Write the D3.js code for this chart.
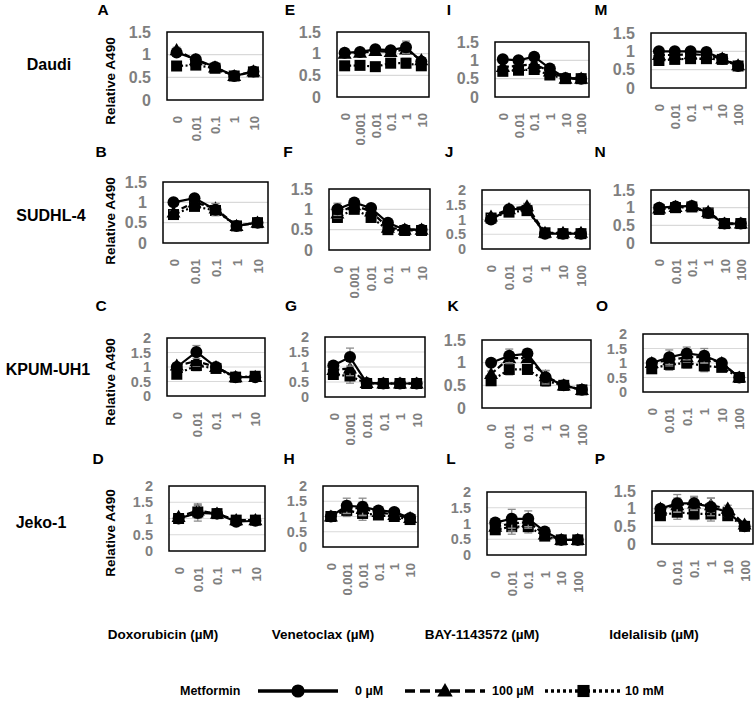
<!DOCTYPE html>
<html><head><meta charset="utf-8">
<script src="https://cdn.jsdelivr.net/npm/d3@7"></script>
<style>body{margin:0;background:#fff}svg{display:block;font-family:"Liberation Sans",Arial,sans-serif}</style>
</head><body><svg id="c" width="756" height="704"></svg>
<script>
// ---------- DATA ----------
const cellLines = ["Daudi", "SUDHL-4", "KPUM-UH1", "Jeko-1"];
const drugTitles = ["Doxorubicin (µM)", "Venetoclax (µM)", "BAY-1143572 (µM)", "Idelalisib (µM)"];
const dosesDox = ["0", "0.01", "0.1", "1", "10"];
const dosesVen = ["0", "0.001", "0.01", "0.1", "1", "10"];
const dosesBay = ["0", "0.01", "0.1", "1", "10", "100"];
const dosesIde = ["0", "0.01", "0.1", "1", "10", "100"];
const seriesNames = ["0 µM", "100 µM", "10 mM"];
const panelLetters = ["A","E","I","M","B","F","J","N","C","G","K","O","D","H","L","P"];
const yMax = [1.5,1.5,1.5,1.5, 1.5,1.5,2,1.5, 2,2,1.5,2, 2,2,2,1.5];

// Metformin 0 µM (circle), 100 µM (triangle), 10 mM (square); err = SD
const A_0 = [1.05,0.9,0.73,0.53,0.63], A_100 = [1.1,0.88,0.72,0.53,0.63], A_10 = [0.75,0.77,0.7,0.53,0.62], A_err = [0.08,0.05,0.05,0.04,0.04];
const E_0 = [1.02,1.04,1.1,1.08,1.15,0.82], E_100 = [1.0,1.02,1.06,1.04,1.1,0.85], E_10 = [0.72,0.73,0.7,0.78,0.78,0.72], E_err = [0.05,0.05,0.05,0.08,0.14,0.06];
const I_0 = [1.03,1.0,1.1,0.78,0.52,0.5], I_100 = [0.82,0.85,0.9,0.7,0.5,0.5], I_10 = [0.7,0.73,0.75,0.6,0.5,0.5], I_err = [0.05,0.05,0.05,0.05,0.04,0.04];
const M_0 = [1.0,1.0,1.0,0.98,0.8,0.6], M_100 = [0.9,0.9,0.92,0.9,0.8,0.62], M_10 = [0.75,0.78,0.8,0.8,0.78,0.6], M_err = [0.06,0.06,0.06,0.1,0.05,0.04];
const B_0 = [1.0,1.1,0.82,0.42,0.5], B_100 = [0.75,1.0,0.85,0.42,0.5], B_10 = [0.7,0.9,0.8,0.42,0.5], B_err = [0.05,0.08,0.15,0.04,0.04];
const F_0 = [1.0,1.17,1.03,0.67,0.5,0.5], F_100 = [0.9,1.1,0.95,0.55,0.5,0.5], F_10 = [0.8,1.0,0.8,0.5,0.48,0.48], F_err = [0.15,0.06,0.05,0.05,0.04,0.04];
const J_0 = [1.0,1.35,1.35,0.52,0.52,0.52], J_100 = [1.1,1.35,1.45,0.55,0.55,0.55], J_10 = [1.05,1.25,1.3,0.55,0.52,0.52], J_err = [0.08,0.1,0.12,0.05,0.05,0.05];
const N_0 = [1.0,1.03,1.05,0.85,0.55,0.55], N_100 = [0.98,1.02,1.04,0.88,0.55,0.55], N_10 = [0.95,1.0,1.02,0.85,0.55,0.55], N_err = [0.06,0.05,0.05,0.12,0.05,0.05];
const C_0 = [1.0,1.52,1.0,0.65,0.65], C_100 = [1.05,1.2,1.0,0.65,0.66], C_10 = [0.75,1.05,0.95,0.65,0.68], C_err = [0.1,0.22,0.1,0.06,0.06];
const G_0 = [1.05,1.33,0.47,0.45,0.45,0.45], G_100 = [0.9,0.95,0.47,0.45,0.45,0.45], G_10 = [0.75,0.7,0.45,0.45,0.45,0.45], G_err = [0.1,0.3,0.05,0.04,0.04,0.04];
const K_0 = [1.0,1.15,1.2,0.68,0.5,0.4], K_100 = [0.75,1.1,1.1,0.7,0.5,0.4], K_10 = [0.6,0.85,0.85,0.6,0.5,0.4], K_err = [0.08,0.15,0.1,0.15,0.04,0.04];
const O_0 = [1.0,1.2,1.33,1.25,1.0,0.5], O_100 = [1.0,1.1,1.2,1.2,1.0,0.5], O_10 = [0.8,0.95,1.0,0.9,0.85,0.5], O_err = [0.1,0.25,0.22,0.25,0.08,0.05];
const D_0 = [1.0,1.17,1.15,0.9,0.93], D_100 = [1.05,1.25,1.15,0.95,0.95], D_10 = [1.0,1.2,1.15,0.95,0.95], D_err = [0.08,0.25,0.08,0.06,0.06];
const H_0 = [1.0,1.35,1.32,1.2,1.15,0.95], H_100 = [1.0,1.3,1.25,1.15,1.05,0.95], H_10 = [1.0,1.2,1.1,1.05,1.0,0.9], H_err = [0.08,0.25,0.28,0.1,0.1,0.06];
const L_0 = [1.03,1.15,1.15,0.75,0.48,0.48], L_100 = [0.9,1.0,1.05,0.65,0.48,0.48], L_10 = [0.8,0.9,0.9,0.6,0.48,0.48], L_err = [0.08,0.3,0.25,0.06,0.04,0.04];
const P_0 = [1.0,1.15,1.15,1.05,0.9,0.5], P_100 = [1.0,1.1,1.15,1.1,1.0,0.55], P_10 = [0.8,0.9,0.85,0.85,0.8,0.5], P_err = [0.08,0.25,0.2,0.25,0.12,0.05];

// ---------- LAYOUT (pixel positions only) ----------
const boxes = {
  A:[167,32,263,100], E:[337,32,429,97], I:[495,42,589,97], M:[651,33,746,88],
  B:[163,182,268,243], F:[329,189,430,250], J:[482,190,590,249], N:[651,190,749,243],
  C:[167,338,265,396], G:[325,337,425,397], K:[482,340,591,408], O:[643,334,748,392],
  D:[169,486,265,551], H:[323,486,418,547], L:[487,492,586,555], P:[652,491,753,544]
};
const letterPos = {A:[103,15],E:[290,15],I:[449,15],M:[601,15],B:[101,157],F:[288,157],J:[449,157],N:[600,157],
  C:[101,311],G:[291,311],K:[453,311],O:[602,311],D:[98,464],H:[289,464],L:[451,464],P:[600,464]};
const rowLabelPos = [[49,64],[51,215],[48,369],[41,522]];
const ylabPos = [[110,81],[110,221],[110,382],[110,533]];
const titleX = [163,323,482,654];

const dataMap = {A:[A_0,A_100,A_10,A_err],E:[E_0,E_100,E_10,E_err],I:[I_0,I_100,I_10,I_err],M:[M_0,M_100,M_10,M_err],
  B:[B_0,B_100,B_10,B_err],F:[F_0,F_100,F_10,F_err],J:[J_0,J_100,J_10,J_err],N:[N_0,N_100,N_10,N_err],
  C:[C_0,C_100,C_10,C_err],G:[G_0,G_100,G_10,G_err],K:[K_0,K_100,K_10,K_err],O:[O_0,O_100,O_10,O_err],
  D:[D_0,D_100,D_10,D_err],H:[H_0,H_100,H_10,H_err],L:[L_0,L_100,L_10,L_err],P:[P_0,P_100,P_10,P_err]};
const dosesByCol = [dosesDox, dosesVen, dosesBay, dosesIde];

const svg = d3.select("#c");
const grey = "#7f7f7f";
const dashes = [null, "6,3", "2,2.5"];

function marker(g, type, x, y, s) {
  if (type === 0) g.append("circle").attr("cx", x).attr("cy", y).attr("r", 6*s).attr("fill", "#000");
  else if (type === 1) g.append("path").attr("d", d3.symbol(d3.symbolTriangle, 85*s*s)()).attr("transform", `translate(${x},${y+1})`).attr("fill", "#000");
  else g.append("rect").attr("x", x-5.5*s).attr("y", y-5.5*s).attr("width", 11*s).attr("height", 11*s).attr("fill", "#000");
}

panelLetters.forEach((id, i) => {
  const col = i % 4;
  const [x0, y0, x1, y1] = boxes[id];
  const doses = dosesByCol[col];
  const x = d3.scalePoint().domain(doses).range([x0, x1]).padding(0.5);
  const y = d3.scaleLinear().domain([0, yMax[i]]).range([y1, y0]);
  const g = svg.append("g");

  // gridlines
  g.selectAll("line.grid").data(d3.range(0.5, yMax[i] - 0.01, 0.5)).join("line")
    .attr("x1", x0).attr("x2", x1).attr("y1", d => y(d)).attr("y2", d => y(d))
    .attr("stroke", "#d9d9d9").attr("stroke-width", 1.2);

  // y axis labels
  const ya = g.append("g").attr("transform", `translate(${x0},0)`)
    .call(d3.axisLeft(y).tickValues(d3.range(0, yMax[i] + 0.01, 0.5)).tickSize(0).tickPadding(16).tickFormat(d3.format("~g")));
  ya.select(".domain").remove();
  ya.selectAll("text").attr("fill", grey).style("font-size", yMax[i] > 1.5 ? "14.5px" : "16px").style("font-weight", "bold")
    .style("font-family", "Liberation Sans, Arial, sans-serif");

  // x axis labels
  const xa = g.append("g").attr("transform", `translate(0,${y1})`).call(d3.axisBottom(x).tickSize(0));
  xa.select(".domain").remove();
  xa.selectAll("text").attr("transform", "rotate(-90)").attr("x", -16).attr("y", 0).attr("dy", "0.36em")
    .style("text-anchor", "end").attr("fill", grey).style("font-size", "13px").style("font-weight", "bold")
    .style("font-family", "Liberation Sans, Arial, sans-serif");

  // series
  const [s0, s100, s10, err] = dataMap[id];
  const series = [s0, s100, s10];
  [2, 1, 0].forEach(k => {
    const vals = series[k];
    const sg = g.append("g");
    vals.forEach((v, j) => {
      const cx = x(doses[j]);
      const e = err[j] * (k === 0 ? 1 : 0.8);
      sg.append("line").attr("x1", cx).attr("x2", cx).attr("y1", y(v - e)).attr("y2", y(v + e)).attr("stroke", "#8c8c8c").attr("stroke-width", 1.3);
      [v - e, v + e].forEach(t => sg.append("line").attr("x1", cx - 4).attr("x2", cx + 4).attr("y1", y(t)).attr("y2", y(t)).attr("stroke", "#8c8c8c").attr("stroke-width", 1.3));
    });
    sg.append("path").datum(vals)
      .attr("d", d3.line().x((d, j) => x(doses[j])).y(d => y(d)))
      .attr("fill", "none").attr("stroke", "#000").attr("stroke-width", 2.2)
      .attr("stroke-dasharray", dashes[k]);
    vals.forEach((v, j) => marker(sg, k, x(doses[j]), y(v), 1));
  });

  // box
  g.append("rect").attr("x", x0).attr("y", y0).attr("width", x1 - x0).attr("height", y1 - y0)
    .attr("fill", "none").attr("stroke", "#000").attr("stroke-width", 1.5);

  // panel letter
  svg.append("text").attr("x", letterPos[id][0]).attr("y", letterPos[id][1]).attr("text-anchor", "middle")
    .style("font-size", "15.5px").style("font-weight", "bold").text(id);
});

// row labels and y titles
cellLines.forEach((c, r) => {
  svg.append("text").attr("x", rowLabelPos[r][0]).attr("y", rowLabelPos[r][1]).attr("dy", "0.35em")
    .attr("text-anchor", "middle").style("font-size", "16px").style("font-weight", "bold").text(c);
  svg.append("text").attr("transform", `translate(${ylabPos[r][0]},${ylabPos[r][1]}) rotate(-90)`)
    .attr("dy", "0.35em").attr("text-anchor", "middle").style("font-size", "13.5px").style("font-weight", "bold").text("Relative A490");
});

// drug titles
drugTitles.forEach((t, i) => {
  svg.append("text").attr("x", titleX[i]).attr("y", 639).attr("text-anchor", "middle")
    .style("font-size", "13.5px").style("font-weight", "bold").text(t);
});

// legend
const lg = svg.append("g");
const ly = 691;
lg.append("text").attr("x", 180).attr("y", ly).attr("dy", "0.35em").style("font-size", "12.5px").style("font-weight", "bold").text("Metformin");
const legItems = [[258, 338, 355], [405, 485, 492], [545, 622, 625]];
legItems.forEach(([a, b, tx], k) => {
  lg.append("line").attr("x1", a).attr("x2", b).attr("y1", ly).attr("y2", ly).attr("stroke", "#000").attr("stroke-width", 3.5)
    .attr("stroke-dasharray", k === 1 ? "10,5" : (k === 2 ? "3,3" : null));
  marker(lg, k, (a + b) / 2, ly, 1.1);
  lg.append("text").attr("x", tx).attr("y", ly).attr("dy", "0.35em").style("font-size", "12.5px").style("font-weight", "bold").text(seriesNames[k]);
});
</script></body></html>
